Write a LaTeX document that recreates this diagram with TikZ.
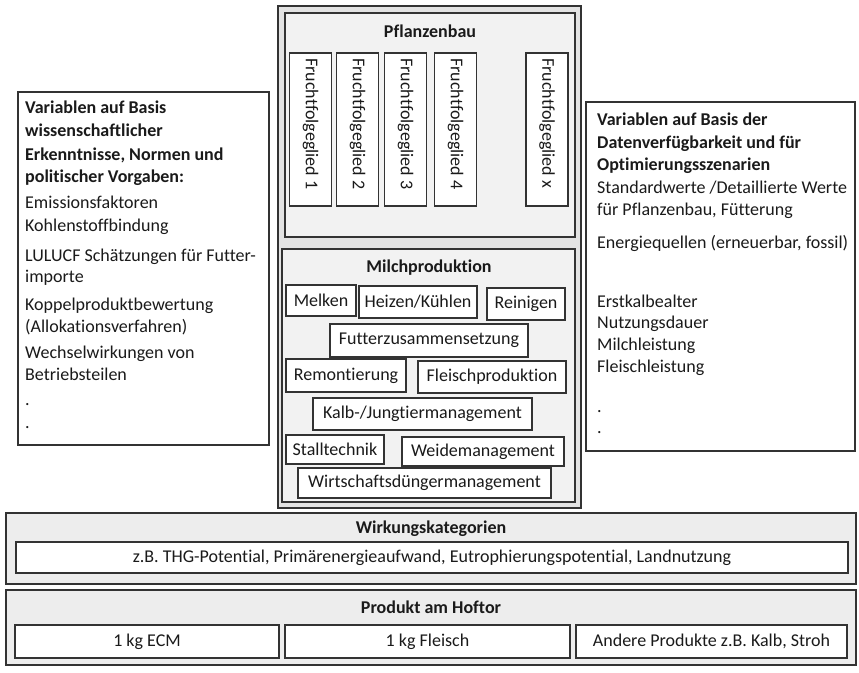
\documentclass[tikz,border=0pt]{standalone}
\usepackage{fontspec}
\setmainfont{Carlito}[Ligatures=NoCommon]
\definecolor{linec}{HTML}{333333}
\definecolor{txtc}{HTML}{1A1A1A}
\definecolor{outerfill}{HTML}{E3E3E3}
\definecolor{panelfill}{HTML}{F2F2F2}
\definecolor{bandfill}{HTML}{EDEDED}
\begin{document}
\begin{tikzpicture}[x=1pt,y=-1pt,
  font=\fontsize{18}{22}\selectfont, text=txtc,
  frame/.style={draw=linec, line width=1.1pt, inner sep=0pt, outer sep=0pt},
  whitebox/.style={frame, fill=white},
  panel/.style={frame, fill=panelfill},
  title/.style={font=\fontsize{18}{22}\selectfont\bfseries, inner sep=0pt},
  ltext/.style={anchor=base west, inner sep=0pt},
  vtext/.style={rotate=-90, anchor=west, inner sep=0pt}]
\useasboundingbox (0,0) rectangle (859,672);
\fill[white] (0,0) rectangle (859,672);

% central column
\node[frame, fill=outerfill, line width=1.4pt, minimum width=303, minimum height=502] (center) at (429.5,257) {};
\node[panel, minimum width=290, minimum height=224] (pfl) at (430,125) {};
\node[title] (pfltitle) at (430,31) {Pflanzenbau};
\foreach \cx/\t/\n in {310.5/1/f1, 357.5/2/f2, 405.5/3/f3, 455.5/4/f4, 547/x/fx}{
  \node[whitebox, minimum width=42, minimum height=153] (\n) at (\cx,129.5) {};
  \node[vtext] (\n t) at (\cx,58) {Fruchtfolgeglied \t};
}

\node[panel, minimum width=293, minimum height=253] (milch) at (428.5,375.5) {};
\node[title] (milchtitle) at (429,268) {Milchproduktion};
\node[whitebox, minimum width=70, minimum height=31] (melken) at (321,300.5) {Melken};
\node[whitebox, minimum width=118, minimum height=32] (heizen) at (418,302) {Heizen/Kühlen};
\node[whitebox, minimum width=78, minimum height=32] (reinigen) at (526,304) {Reinigen};
\node[whitebox, minimum width=198, minimum height=33] (futter) at (429,340.5) {Futterzusammensetzung};
\node[whitebox, minimum width=120, minimum height=33] (remont) at (346,375.5) {Remontierung};
\node[whitebox, minimum width=148, minimum height=32] (fleischp) at (492,377) {Fleischproduktion};
\node[whitebox, minimum width=219, minimum height=32] (kalb) at (422.5,414) {Kalb-/Jungtiermanagement};
\node[whitebox, minimum width=98, minimum height=29] (stall) at (335,449.5) {Stalltechnik};
\node[whitebox, minimum width=162, minimum height=29] (weide) at (483,451.5) {Weidemanagement};
\node[whitebox, minimum width=253, minimum height=30] (wirt) at (424.5,483) {Wirtschaftsdüngermanagement};

% left box
\node[whitebox, minimum width=251, minimum height=353] (left) at (143.5,268.5) {};
\foreach \y/\t [count=\i] in {113/{\bfseries Variablen auf Basis},
  136.5/{\bfseries wissenschaftlicher},
  160/{\bfseries Erkenntnisse, Normen und},
  182/{\bfseries politischer Vorgaben:},
  208/{Emissionsfaktoren},
  231/{Kohlenstoffbindung},
  261.5/{LULUCF Schätzungen für Futter-},
  282/{importe},
  310/{Koppelproduktbewertung},
  332/{(Allokationsverfahren)},
  358/{Wechselwirkungen von},
  380/{Betriebsteilen},
  405/{.},
  428/{.}}{
  \node[ltext] (l\i) at (25,\y) {\t};
}

% right box
\node[whitebox, minimum width=269, minimum height=349] (right) at (720.5,276.5) {};
\foreach \y/\t [count=\i] in {125/{\bfseries Variablen auf Basis der},
  148/{\bfseries Datenverfügbarkeit und für},
  170/{\bfseries Optimierungsszenarien},
  193/{Standardwerte /Detaillierte Werte},
  215/{für Pflanzenbau, Fütterung},
  248/{Energiequellen (erneuerbar, fossil)},
  307/{Erstkalbealter},
  328/{Nutzungsdauer},
  350/{Milchleistung},
  372/{Fleischleistung},
  412/{.},
  433/{.}}{
  \node[ltext] (r\i) at (597,\y) {\t};
}

% Wirkungskategorien band
\node[frame, fill=bandfill, minimum width=850, minimum height=71] (wirk) at (431,548.5) {};
\node[title] (wirktitle) at (431,529) {Wirkungskategorien};
\node[whitebox, minimum width=832, minimum height=31] (wirkin) at (432,557.5) {z.B. THG-Potential, Primärenergieaufwand, Eutrophierungspotential, Landnutzung};

% Produkt band
\node[frame, fill=bandfill, minimum width=850, minimum height=75] (prod) at (431,627.5) {};
\node[title] (prodtitle) at (431,607) {Produkt am Hoftor};
\node[whitebox, minimum width=264, minimum height=33] (ecm) at (147,641.5) {1 kg ECM};
\node[whitebox, minimum width=285, minimum height=33] (fleisch) at (427.5,641.5) {1 kg Fleisch};
\node[whitebox, minimum width=271, minimum height=33] (andere) at (711.5,641.5) {Andere Produkte z.B. Kalb, Stroh};
\end{tikzpicture}
\end{document}
